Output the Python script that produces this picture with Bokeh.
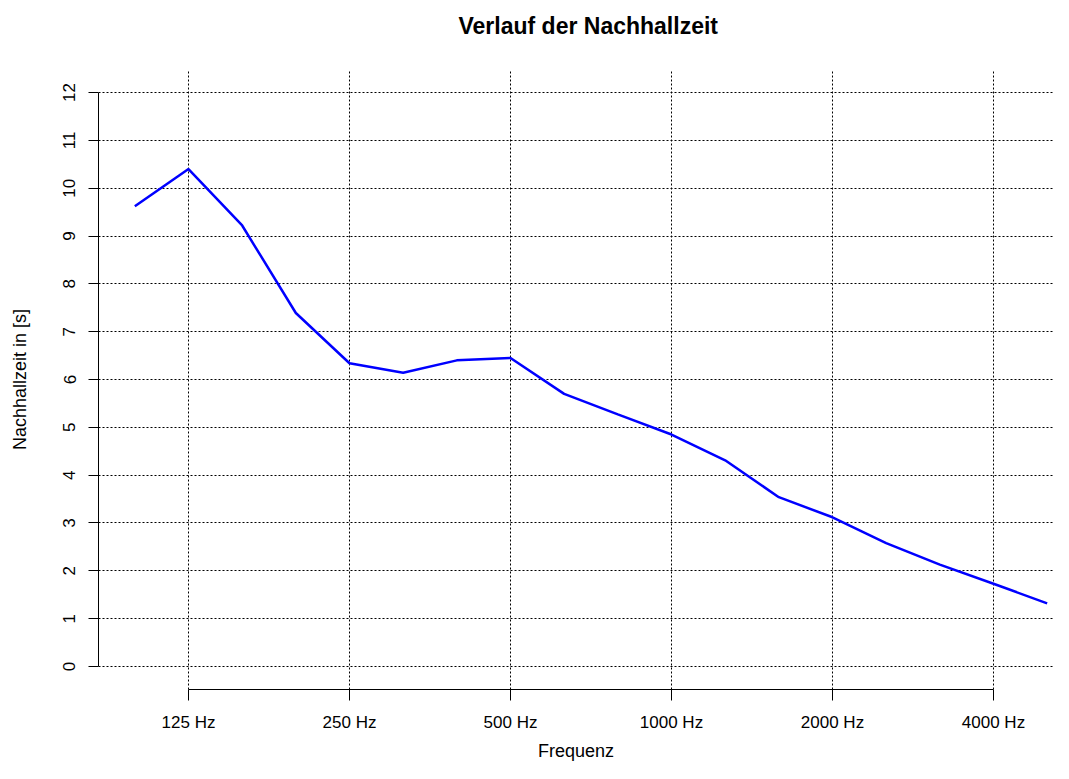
from bokeh.plotting import figure
from bokeh.models import Range1d, FixedTicker, ColumnDataSource, Title
from bokeh.embed import file_html
from bokeh.resources import INLINE

# Third-octave bands (index positions along the x axis)
bands = ["100", "125", "160", "200", "250", "315", "400", "500", "630",
         "800", "1000", "1250", "1600", "2000", "2500", "3150", "4000", "5000"]
band_index = list(range(1, len(bands) + 1))
reverb_time = [9.62, 10.40, 9.22, 7.39, 6.34, 6.14, 6.40, 6.45, 5.70,
               5.27, 4.85, 4.31, 3.54, 3.12, 2.58, 2.13, 1.73, 1.32]

tick_positions = [2, 5, 8, 11, 14, 17]
tick_labels = ["125 Hz", "250 Hz", "500 Hz", "1000 Hz", "2000 Hz", "4000 Hz"]
y_ticks = list(range(0, 13))

FONT = "Liberation Sans"

p = figure(width=1053, height=763, output_backend="svg", toolbar_location=None,
           x_range=Range1d(0.323, 18.118), y_range=Range1d(-0.481, 12.481),
           min_border_left=98, min_border_right=0, min_border_top=69,
           min_border_bottom=74, title=None)

p.outline_line_color = None
p.background_fill_color = "white"
p.border_fill_color = "white"

# spacer (closest to the frame) then the real title above it
p.add_layout(Title(text=" ", text_font_size="10px", standoff=18), "above")
p.add_layout(Title(text="Verlauf der Nachhallzeit", align="left", offset=360,
                   text_font=FONT, text_font_size="23px", text_font_style="bold",
                   text_color="black", standoff=0), "above")

src = ColumnDataSource(data=dict(x=band_index, y=reverb_time, band=bands))
p.line("x", "y", source=src, line_color="#0000FF", line_width=2.5)

# x axis
xa = p.xaxis[0]
xa.ticker = FixedTicker(ticks=tick_positions)
xa.major_label_overrides = {t: l for t, l in zip(tick_positions, tick_labels)}
xa.bounds = (tick_positions[0], tick_positions[-1])
xa.axis_label = "Frequenz"
xa.axis_label_standoff = 6
xa.axis_label_text_font = FONT
xa.axis_label_text_font_size = "18px"
xa.axis_label_text_font_style = "normal"
xa.axis_label_text_color = "black"
xa.major_label_text_font = FONT
xa.major_label_text_font_size = "17px"
xa.major_label_text_color = "black"
xa.major_label_standoff = 12
xa.major_tick_in = 0
xa.major_tick_out = 11
xa.minor_tick_out = 0
xa.minor_tick_in = 0
xa.axis_line_color = "black"
xa.major_tick_line_color = "black"

# y axis
ya = p.yaxis[0]
ya.ticker = FixedTicker(ticks=y_ticks)
ya.bounds = (y_ticks[0], y_ticks[-1])
ya.axis_label = "Nachhallzeit in [s]"
ya.axis_label_standoff = 31
ya.axis_label_text_font = FONT
ya.axis_label_text_font_size = "18px"
ya.axis_label_text_font_style = "normal"
ya.axis_label_text_color = "black"
ya.major_label_text_font = FONT
ya.major_label_text_font_size = "17px"
ya.major_label_text_color = "black"
ya.major_label_orientation = "vertical"
ya.major_label_standoff = 13
ya.major_tick_in = 0
ya.major_tick_out = 10
ya.minor_tick_out = 0
ya.minor_tick_in = 0
ya.axis_line_color = "black"
ya.major_tick_line_color = "black"

# grid
p.xgrid.grid_line_color = "black"
p.xgrid.grid_line_dash = "2 2"
p.xgrid.grid_line_width = 1
p.ygrid.grid_line_color = "black"
p.ygrid.grid_line_dash = "2 2"
p.ygrid.grid_line_width = 1

open("out.html", "w").write(file_html(p, INLINE))
